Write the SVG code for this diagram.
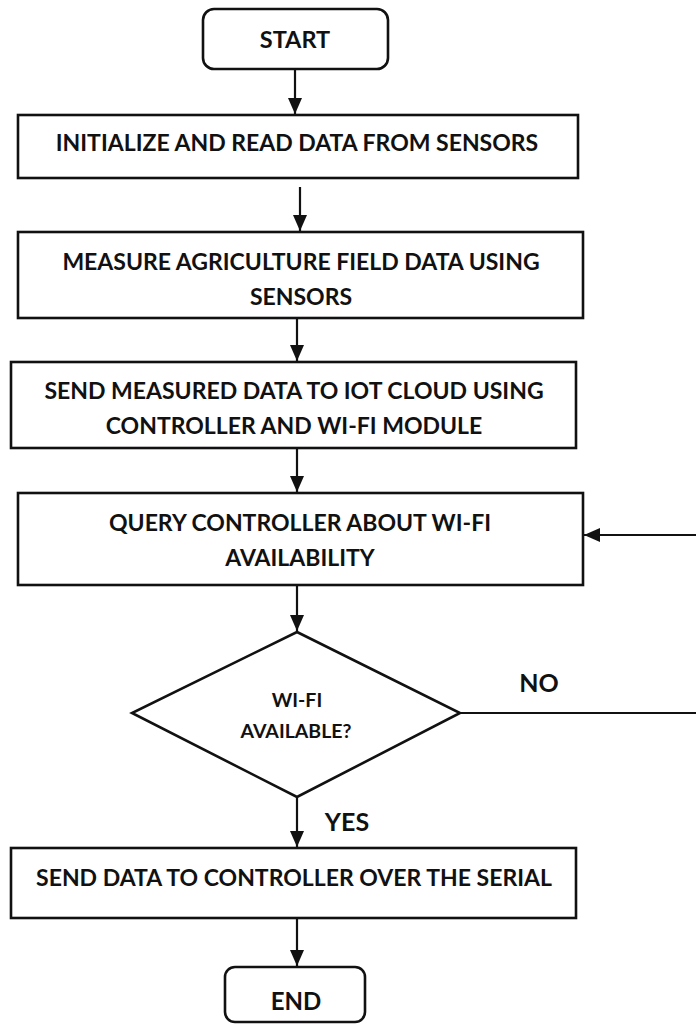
<svg xmlns="http://www.w3.org/2000/svg" width="696" height="1025" viewBox="0 0 696 1025">
<style>
.box{fill:#fff;stroke:#111;stroke-width:2.6}
.t{font-family:Lato,"Open Sans","Liberation Sans",sans-serif;font-weight:bold;font-size:23px;fill:#111;text-anchor:middle}
.lbl{font-family:Lato,"Open Sans","Liberation Sans",sans-serif;font-weight:bold;font-size:25px;fill:#111;text-anchor:middle}
.dt{font-family:Lato,"Open Sans","Liberation Sans",sans-serif;font-weight:bold;font-size:19.5px;fill:#111;text-anchor:middle}
.c{fill:none;stroke:#111;stroke-width:2.2}
</style>
<defs>
<marker id="a" viewBox="0 0 16 14" refX="16" refY="7" markerWidth="16" markerHeight="14" markerUnits="userSpaceOnUse" orient="auto">
<path d="M0,0 L16,7 L0,14 z" fill="#111"/>
</marker>
</defs>
<rect width="696" height="1025" fill="#fff"/>
<g id="connectors">
<line class="c" x1="295" y1="70" x2="295" y2="114" marker-end="url(#a)"/>
<line class="c" x1="300" y1="187" x2="300" y2="231" marker-end="url(#a)"/>
<line class="c" x1="297" y1="319" x2="297" y2="361" marker-end="url(#a)"/>
<line class="c" x1="297" y1="449" x2="297" y2="492" marker-end="url(#a)"/>
<line class="c" x1="297" y1="586" x2="297" y2="631" marker-end="url(#a)"/>
<line class="c" x1="297" y1="797" x2="297" y2="847" marker-end="url(#a)"/>
<line class="c" x1="297" y1="919" x2="297" y2="966" marker-end="url(#a)"/>
<line class="c" x1="460" y1="713" x2="696" y2="713"/>
<line class="c" x1="696" y1="535" x2="584" y2="535" marker-end="url(#a)"/>
<text class="lbl" x="539" y="692">NO</text>
<text class="lbl" x="347" y="831">YES</text>
</g>
<g id="start">
<rect class="box" x="203" y="9" width="185" height="60" rx="11"/>
<text class="t" x="295" y="48" style="font-size:23.5px">START</text>
</g>
<g id="init">
<rect class="box" x="18" y="115" width="560" height="63"/>
<text class="t" x="297" y="151">INITIALIZE AND READ DATA FROM SENSORS</text>
</g>
<g id="measure">
<rect class="box" x="18" y="232" width="565" height="86"/>
<text class="t" x="301" y="270">MEASURE AGRICULTURE FIELD DATA USING</text>
<text class="t" x="301" y="305">SENSORS</text>
</g>
<g id="send">
<rect class="box" x="11" y="362" width="565" height="86"/>
<text class="t" x="294" y="399">SEND MEASURED DATA TO IOT CLOUD USING</text>
<text class="t" x="294" y="434">CONTROLLER AND WI-FI MODULE</text>
</g>
<g id="query">
<rect class="box" x="18" y="493" width="565" height="92"/>
<text class="t" x="300" y="531">QUERY CONTROLLER ABOUT WI-FI</text>
<text class="t" x="300" y="566">AVAILABILITY</text>
</g>
<g id="decision">
<polygon class="box" points="297,632 460,713 297,797 132,713"/>
<text class="dt" x="297" y="707">WI-FI</text>
<text class="dt" x="296" y="738">AVAILABLE?</text>
</g>
<g id="serial">
<rect class="box" x="11" y="848" width="565" height="70"/>
<text class="t" x="294" y="886">SEND DATA TO CONTROLLER OVER THE SERIAL</text>
</g>
<g id="end">
<rect class="box" x="225" y="967" width="140" height="55" rx="10"/>
<text class="t" x="296" y="1010" style="font-size:24px">END</text>
</g>
</svg>
